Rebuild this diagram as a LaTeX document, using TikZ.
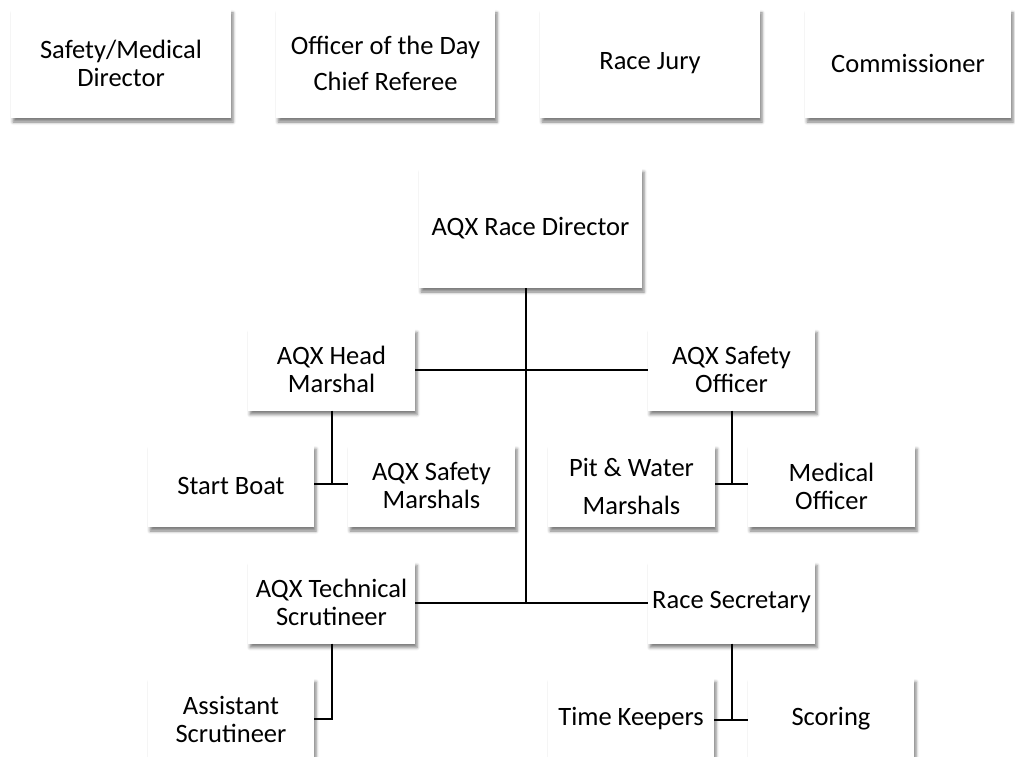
\documentclass[tikz,border=0pt]{standalone}
\usepackage{fontspec}
\setmainfont{Carlito}
\usetikzlibrary{shadows.blur}
\tikzset{
  box/.style={fill=white, inner sep=0pt, align=center, font=\fontsize{26.5}{28}\selectfont,
    blur shadow={shadow xshift=2pt, shadow yshift=-4pt, shadow blur radius=3pt, shadow opacity=50}},
  wide/.style={box, minimum width=220pt, minimum height=109pt},
  mid/.style={box, minimum width=167pt, minimum height=82pt},
  link/.style={line width=2pt, black}
}
\begin{document}
\begin{tikzpicture}[x=1pt,y=-1pt]
\useasboundingbox (0,0) rectangle (1015,757);
% top row
\node[wide] (SM) at (121,63.5) {Safety/Medical\\Director};
\node[wide, minimum width=219pt, font=\fontsize{26.5}{36}\selectfont] (OD) at (385.5,63.5) {Officer of the Day\\Chief Referee};
\node[wide] (RJ) at (650,63.5) {Race Jury};
\node[wide, minimum width=206pt] (CM) at (908,63.5) {Commissioner};
% director
\node[box, minimum width=223pt, minimum height=120pt] (RD) at (530.5,228) {AQX Race Director};
% second level
\node[mid] (HM) at (331.5,369.5) {AQX Head\\Marshal};
\node[mid] (SO) at (731.5,369.5) {AQX Safety\\Officer};
\node[mid, minimum width=166pt] (SB) at (231,486) {Start Boat};
\node[mid] (AS) at (431.5,486) {AQX Safety\\Marshals};
\node[mid, font=\fontsize{26.5}{38}\selectfont] (PW) at (631.5,486) {Pit \& Water\\Marshals};
\node[mid] (MO) at (831.5,486) {Medical\\Officer};
% third level
\node[mid] (TS) at (331.5,602.5) {AQX Technical\\Scrutineer};
\node[mid] (RS) at (731.5,602.5) {Race Secretary};
\node[mid, minimum width=166pt] (AT) at (231,719) {Assistant\\Scrutineer};
\node[mid, minimum width=166pt] (TK) at (631,719) {Time Keepers};
\node[mid, minimum width=166pt] (SC) at (831,719) {Scoring};
% connectors
\coordinate (trunk) at (526,602);
\draw[link] (RD.south -| trunk) -- (trunk);
\draw[link] (HM.east) -- (SO.west);
\draw[link] (TS.east) -- (RS.west);
\coordinate (hmj) at (332,484);
\draw[link] (HM.south -| hmj) -- (hmj);
\draw[link] (SB.east |- hmj) -- (AS.west |- hmj);
\coordinate (soj) at (732,484);
\draw[link] (SO.south -| soj) -- (soj);
\draw[link] (PW.east |- soj) -- (MO.west |- soj);
\coordinate (tsj) at (332,719);
\draw[link] (TS.south -| tsj) -- (tsj) -- (AT.east |- tsj);
\coordinate (rsj) at (732,720);
\draw[link] (RS.south -| rsj) -- (rsj);
\draw[link] (TK.east |- rsj) -- (SC.west |- rsj);
\end{tikzpicture}
\end{document}
